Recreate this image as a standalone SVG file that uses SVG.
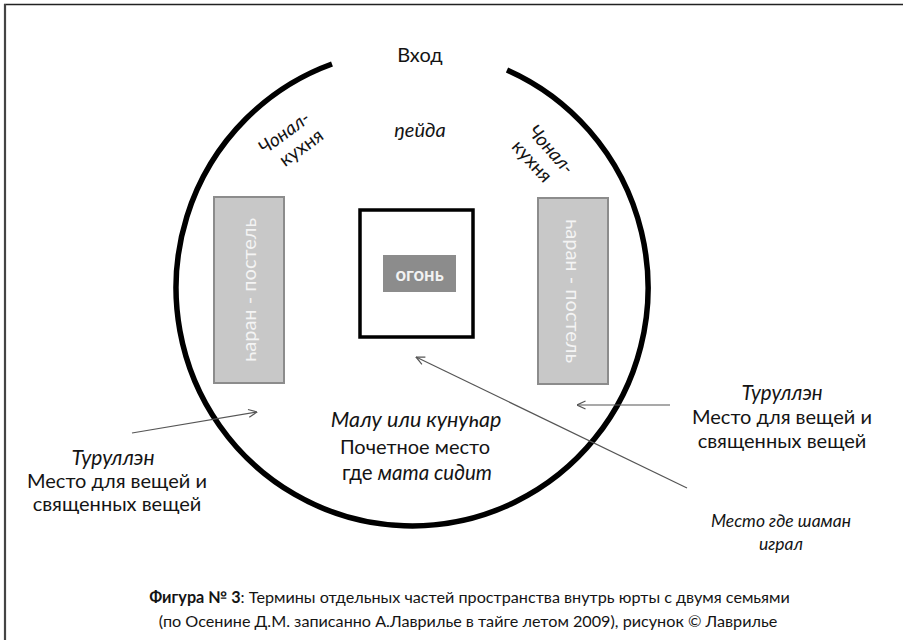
<svg xmlns="http://www.w3.org/2000/svg" width="903" height="640" viewBox="0 0 903 640">
<defs>
<marker id="ah" viewBox="0 0 10 10" refX="9.5" refY="5" markerWidth="10" markerHeight="10" markerUnits="userSpaceOnUse" orient="auto">
<path d="M1,1 L9.5,5 L1,9" fill="none" stroke="#555" stroke-width="1.2"/>
</marker>
</defs>
<style>
.t{font-family:Lato,"Open Sans","Noto Sans",sans-serif;fill:#141414;text-anchor:middle}
.i{font-style:italic}
.bed{fill:#c8c8c8;stroke:#8c8c8c;stroke-width:2}
.bedt{font-family:Lato,"Open Sans","Noto Sans",sans-serif;fill:#f4f4f4;font-size:20px;text-anchor:middle}
.conn{stroke:#555;stroke-width:1.2;fill:none;marker-end:url(#ah)}
</style>
<rect width="903" height="640" fill="#fff"/>
<g id="frame" fill="none">
<line x1="4" y1="4.5" x2="903" y2="4.5" stroke="#222" stroke-width="1.5"/>
<line x1="5" y1="4" x2="5" y2="640" stroke="#444" stroke-width="2.2"/>
</g>
<g id="yurt">
<path d="M332,64 A236,238 0 1 0 507,70" fill="none" stroke="#000" stroke-width="5.5"/>
</g>
<g id="entrance"><text class="t" x="420" y="62" font-size="20">Вход</text></g>
<g id="neyda"><text class="t i" x="420" y="137" font-size="20">ŋейда</text></g>
<g id="chonal-left" transform="translate(292,140) rotate(-36)">
<text class="t i" x="-2" y="-4" font-size="19">Чонал-</text>
<text class="t" x="3" y="18" font-size="19">кухня</text>
</g>
<g id="chonal-right" transform="translate(542,155) rotate(48)">
<text class="t i" x="2" y="-4" font-size="19">Чонал-</text>
<text class="t" x="-2" y="18" font-size="19">кухня</text>
</g>
<g id="bed-left">
<rect class="bed" x="214" y="197" width="70" height="186"/>
<text class="bedt" transform="translate(256,290) rotate(-90)">һаран - постель</text>
</g>
<g id="bed-right">
<rect class="bed" x="538" y="198" width="70" height="186"/>
<text class="bedt" transform="translate(566,291) rotate(90)">һаран - постель</text>
</g>
<g id="fire">
<rect x="360" y="210" width="113" height="127" fill="#fff" stroke="#000" stroke-width="3.5"/>
<rect x="383" y="255" width="73" height="37" fill="#8c8c8c"/>
<text x="419.5" y="280.5" font-family="Lato,'Open Sans','Noto Sans',sans-serif" font-size="18.5" font-weight="bold" fill="#f2f2f2" text-anchor="middle">огонь</text>
</g>
<g id="malu">
<text class="t i" x="416" y="427" font-size="21.5">Малу или кунуһар</text>
<text class="t" x="415" y="454" font-size="20">Почетное место</text>
<text class="t" x="417" y="480" font-size="20.5">где <tspan class="i">мата сидит</tspan></text>
</g>
<g id="turullen-left">
<text class="t i" x="113" y="465" font-size="21">Туруллэн</text>
<text class="t" x="117" y="488" font-size="20">Место для вещей и</text>
<text class="t" x="117" y="511" font-size="20">священных вещей</text>
</g>
<g id="turullen-right">
<text class="t i" x="782" y="400" font-size="20.5">Туруллэн</text>
<text class="t" x="782" y="424" font-size="20">Место для вещей и</text>
<text class="t" x="782" y="448" font-size="20">священных вещей</text>
</g>
<g id="shaman">
<text class="t i" x="781" y="527" font-size="17.5">Место где шаман</text>
<text class="t i" x="781" y="550" font-size="17.5">играл</text>
</g>
<g id="connectors">
<line class="conn" x1="132" y1="433" x2="257" y2="412"/>
<line class="conn" x1="670" y1="405" x2="577" y2="405"/>
<line class="conn" x1="687" y1="488" x2="416" y2="357"/>
</g>
<g id="caption">
<text class="t" x="469.5" y="603" font-size="16.2"><tspan font-weight="bold">Фигура № 3</tspan>:  Термины отдельных частей пространства внутрь юрты с двумя семьями</text>
<text class="t" x="468" y="627" font-size="16.2">(по Осенине Д.М. записанно А.Лаврилье в тайге летом 2009), рисунок © Лаврилье</text>
</g>
</svg>
